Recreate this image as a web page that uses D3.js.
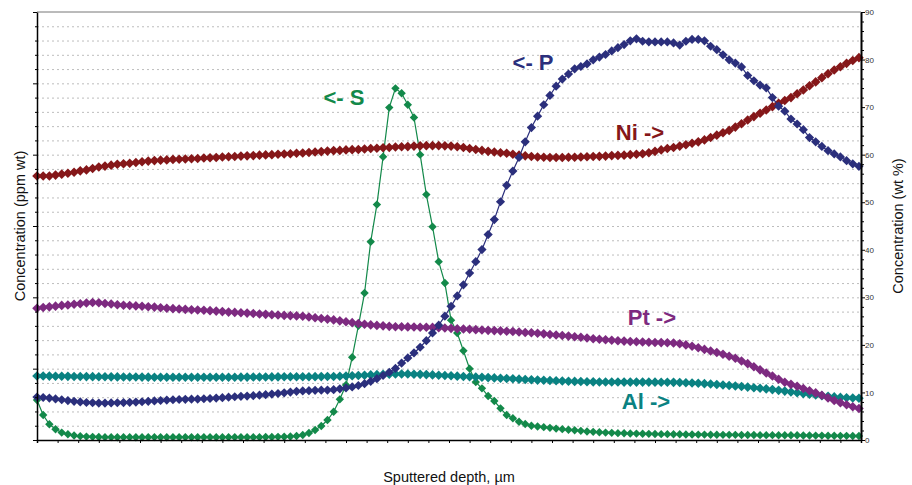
<!DOCTYPE html>
<html>
<head>
<meta charset="utf-8">
<script src="https://cdn.jsdelivr.net/npm/d3@7"></script>
<style>
  body { margin: 0; background: #fff; }
  svg { display: block; font-family: "Liberation Sans", Arial, sans-serif; }
</style>
</head>
<body>
<svg id="chart"></svg>
<script>
// sampling step along the sputtered depth (µm)
const depthStep = 0.03;

// wt % (right axis)
const ni = [55.5,55.5,55.5,55.7,55.9,56.1,56.3,56.6,56.8,57.1,
  57.4,57.6,57.8,58.0,58.1,58.2,58.35,58.5,58.65,58.75,
  58.85,58.9,59.0,59.05,59.1,59.15,59.2,59.3,59.35,59.4,
  59.5,59.55,59.6,59.7,59.75,59.8,59.9,59.95,60.0,60.1,
  60.15,60.2,60.3,60.35,60.45,60.55,60.65,60.75,60.85,60.9,
  61.0,61.05,61.1,61.2,61.3,61.35,61.45,61.5,61.6,61.65,
  61.7,61.8,61.85,61.9,61.9,61.9,61.85,61.8,61.65,61.5,
  61.3,61.1,60.9,60.7,60.55,60.4,60.3,60.1,59.9,59.75,
  59.6,59.5,59.45,59.4,59.4,59.4,59.45,59.45,59.5,59.55,
  59.6,59.65,59.7,59.8,59.85,59.9,60.0,60.1,60.2,60.4,
  60.7,61.0,61.3,61.5,61.8,62.1,62.4,62.7,63.1,63.6,
  64.1,64.6,65.1,65.8,66.5,67.3,68.0,68.7,69.4,70.1,
  70.8,71.4,72.0,72.8,73.6,74.5,75.3,76.2,77.0,77.8,
  78.5,79.2,79.8,80.4];

const pt = [27.7,27.85,28.0,28.15,28.3,28.4,28.55,28.65,28.8,28.9,
  28.85,28.7,28.6,28.45,28.35,28.28,28.2,28.12,28.03,27.95,
  27.82,27.7,27.62,27.55,27.47,27.4,27.35,27.27,27.2,27.1,
  27.0,26.9,26.83,26.75,26.68,26.6,26.5,26.42,26.35,26.28,
  26.2,26.15,26.1,26.02,25.88,25.72,25.55,25.42,25.25,25.05,
  24.85,24.68,24.5,24.35,24.2,24.1,24.0,23.9,23.83,23.8,
  23.78,23.75,23.72,23.7,23.68,23.62,23.55,23.48,23.4,23.34,
  23.28,23.2,23.13,23.06,23.0,22.95,22.88,22.8,22.7,22.62,
  22.55,22.45,22.32,22.2,22.08,21.98,21.85,21.72,21.6,21.45,
  21.3,21.18,21.08,20.98,20.88,20.8,20.72,20.65,20.6,20.55,
  20.5,20.48,20.45,20.4,20.25,20.0,19.7,19.4,19.05,18.72,
  18.4,18.02,17.62,17.18,16.62,16.05,15.4,14.75,14.1,13.45,
  12.78,12.15,11.7,11.3,10.82,10.35,9.9,9.42,8.85,8.32,
  7.85,7.4,7.0,6.62];

const al = [13.46,13.45,13.44,13.42,13.4,13.38,13.36,13.34,13.33,13.32,
  13.31,13.3,13.28,13.27,13.26,13.25,13.24,13.23,13.22,13.21,
  13.2,13.2,13.19,13.18,13.18,13.18,13.18,13.18,13.19,13.19,
  13.2,13.2,13.21,13.22,13.23,13.24,13.25,13.26,13.27,13.28,
  13.29,13.3,13.3,13.3,13.31,13.32,13.33,13.34,13.36,13.4,
  13.45,13.51,13.57,13.63,13.69,13.74,13.79,13.83,13.87,13.88,
  13.87,13.84,13.8,13.75,13.69,13.63,13.57,13.5,13.43,13.36,
  13.3,13.24,13.18,13.12,13.06,13.0,12.94,12.88,12.8,12.73,
  12.66,12.6,12.55,12.5,12.45,12.4,12.36,12.32,12.29,12.26,
  12.23,12.2,12.2,12.19,12.19,12.18,12.18,12.18,12.17,12.17,
  12.16,12.15,12.14,12.12,12.08,12.03,11.98,11.92,11.85,11.76,
  11.66,11.56,11.45,11.34,11.24,11.12,11.0,10.88,10.75,10.6,
  10.44,10.28,10.1,9.92,9.76,9.62,9.48,9.33,9.18,9.06,
  8.96,8.88,8.82,8.77];

// ppm wt (left axis, unlabelled units)
const p = [3.01,2.98,2.94,2.88,2.82,2.76,2.71,2.67,2.63,2.61,
  2.59,2.59,2.6,2.61,2.62,2.64,2.66,2.68,2.71,2.74,
  2.77,2.8,2.82,2.84,2.85,2.86,2.87,2.89,2.91,2.94,
  2.97,3.0,3.03,3.06,3.08,3.11,3.14,3.18,3.22,3.26,
  3.31,3.36,3.41,3.44,3.46,3.48,3.49,3.5,3.53,3.59,
  3.65,3.72,3.82,3.95,4.11,4.3,4.52,4.75,5.02,5.39,
  5.75,6.1,6.5,6.96,7.5,8.05,8.68,9.37,10.1,10.88,
  11.7,12.5,13.35,14.4,15.45,16.7,17.85,18.85,19.8,20.9,
  21.9,22.7,23.5,24.15,24.8,25.3,25.65,26.02,26.18,26.36,
  26.65,26.84,27.02,27.27,27.5,27.72,27.98,28.12,27.95,27.91,
  27.9,27.9,27.9,27.83,27.68,27.95,28.08,28.08,27.98,27.6,
  27.36,27.0,26.65,26.42,26.15,25.55,25.18,24.88,24.68,24.0,
  23.4,23.05,22.5,22.15,21.75,21.2,20.9,20.58,20.28,20.05,
  19.84,19.58,19.36,19.18];

const s = [2.8,1.75,1.1,0.75,0.52,0.4,0.32,0.27,0.24,0.22,
  0.21,0.2,0.2,0.19,0.2,0.2,0.19,0.19,0.2,0.2,
  0.19,0.19,0.2,0.2,0.2,0.19,0.19,0.2,0.2,0.19,
  0.19,0.2,0.2,0.2,0.19,0.2,0.2,0.21,0.21,0.22,
  0.23,0.25,0.28,0.35,0.49,0.7,0.98,1.4,1.98,2.85,
  3.85,5.8,8.0,10.3,13.9,16.5,19.85,23.3,24.65,24.3,
  23.5,22.6,20.0,17.2,14.95,12.5,11.0,8.4,7.5,6.26,
  5.0,4.06,3.62,3.08,2.73,2.22,1.75,1.52,1.28,1.12,
  1.0,0.95,0.9,0.85,0.8,0.76,0.72,0.68,0.64,0.6,
  0.57,0.54,0.52,0.5,0.48,0.47,0.46,0.45,0.44,0.43,
  0.42,0.41,0.41,0.4,0.4,0.39,0.39,0.38,0.38,0.37,
  0.37,0.36,0.36,0.36,0.35,0.35,0.35,0.34,0.34,0.34,
  0.33,0.33,0.33,0.33,0.32,0.32,0.31,0.31,0.3,0.3,
  0.29,0.29,0.28,0.28];

// label positions: [text, depth µm, wt %]
const labels = [
  ["<- S", 1.49, 70.4, "#13894a"],
  ["<- P", 2.408, 77.8, "#2b2f7c"],
  ["Ni ->", 2.927, 63.1, "#851719"],
  ["Pt ->", 2.985, 24.2, "#7d2a80"],
  ["Al ->", 2.956, 6.5, "#0a8282"],
];

const width = 912, height = 485;
const marginLeft = 37, marginRight = 51, marginTop = 12, marginBottom = 45;

const depth = d3.range(ni.length).map(i => i * depthStep);

const x = d3.scaleLinear([0, 4], [marginLeft, width - marginRight]);
const yRight = d3.scaleLinear([0, 90], [height - marginBottom, marginTop]);
const yLeft = d3.scaleLinear([0, 30], [height - marginBottom, marginTop]);

const series = [
  {name: "S", values: s, y: yLeft, color: "#13894a", r: 4.2},
  {name: "Ni", values: ni, y: yRight, color: "#851719", r: 4.8},
  {name: "Al", values: al, y: yRight, color: "#0a8282", r: 4.8},
  {name: "Pt", values: pt, y: yRight, color: "#7d2a80", r: 4.8},
  {name: "P", values: p, y: yLeft, color: "#2b2f7c", r: 4.6},
];

const svg = d3.select("#chart")
    .attr("width", width)
    .attr("height", height)
    .attr("viewBox", [0, 0, width, height]);

// dotted gridlines on the left axis divisions
svg.append("g")
  .selectAll("line")
  .data(d3.range(1, 30))
  .join("line")
    .attr("x1", marginLeft)
    .attr("x2", width - marginRight)
    .attr("y1", d => yLeft(d) + 0.5)
    .attr("y2", d => yLeft(d) + 0.5)
    .attr("stroke", "#bdbdbd")
    .attr("stroke-width", 1)
    .attr("stroke-dasharray", "2,3");

// top border
svg.append("line")
    .attr("x1", marginLeft)
    .attr("x2", width - marginRight)
    .attr("y1", marginTop)
    .attr("y2", marginTop)
    .attr("stroke", "#777")
    .attr("stroke-width", 1);

// series
const diamond = r => `M0,${-r}L${r},0L0,${r}L${-r},0Z`;

for (const d of series) {
  const line = d3.line()
      .x((v, i) => x(depth[i]))
      .y(v => d.y(v));

  svg.append("path")
      .attr("fill", "none")
      .attr("stroke", d.color)
      .attr("stroke-width", 1.2)
      .attr("d", line(d.values));

  svg.append("g")
      .attr("fill", d.color)
    .selectAll("path")
    .data(d.values)
    .join("path")
      .attr("transform", (v, i) => `translate(${x(depth[i])},${d.y(v)})`)
      .attr("d", diamond(d.r));
}

// axes
svg.append("g")
    .attr("transform", `translate(0,${height - marginBottom})`)
    .call(d3.axisBottom(x).tickValues(d3.range(0, 40.5, 1).map(t => t / 10)).tickSize(3).tickFormat(""))
    .call(g => g.select(".domain").attr("stroke", "#000").attr("stroke-width", 1.5))
    .call(g => g.selectAll(".tick line").attr("stroke", "#000"));

svg.append("g")
    .attr("transform", `translate(${marginLeft},0)`)
    .call(d3.axisLeft(yLeft).tickValues(d3.range(0, 31)).tickSize(2).tickFormat("").tickSizeOuter(0))
    .call(g => g.select(".domain").attr("stroke", "#000").attr("stroke-width", 1.5))
    .call(g => g.selectAll(".tick line")
        .attr("stroke", "#000")
        .attr("x2", d => d % 5 === 0 ? -4 : -2));

svg.append("g")
    .attr("transform", `translate(${width - marginRight},0)`)
    .call(d3.axisRight(yRight).tickValues(d3.range(0, 91, 2)).tickSize(3).tickSizeOuter(0)
        .tickFormat(d => d % 10 === 0 ? d : ""))
    .call(g => g.select(".domain").attr("stroke", "#000").attr("stroke-width", 2))
    .call(g => g.selectAll(".tick line")
        .attr("stroke", "#000")
        .attr("x2", d => d % 10 === 0 ? 4 : 3))
    .call(g => g.selectAll(".tick text")
        .attr("x", 4)
        .attr("fill", "#333")
        .attr("font-size", 8)
        .attr("font-family", "Liberation Sans, Arial, sans-serif"));

// axis titles
svg.append("text")
    .attr("transform", `translate(25,${(marginTop + height - marginBottom) / 2}) rotate(-90)`)
    .attr("text-anchor", "middle")
    .attr("font-size", 14.5)
    .attr("fill", "#111")
    .text("Concentration (ppm wt)");

svg.append("text")
    .attr("transform", `translate(903,${(marginTop + height - marginBottom) / 2}) rotate(-90)`)
    .attr("text-anchor", "middle")
    .attr("font-size", 14.5)
    .attr("fill", "#111")
    .text("Concentration (wt %)");

svg.append("text")
    .attr("x", (marginLeft + width - marginRight) / 2)
    .attr("y", 482)
    .attr("text-anchor", "middle")
    .attr("font-size", 14.5)
    .attr("fill", "#111")
    .text("Sputtered depth, µm");

// series labels
svg.append("g")
    .attr("font-size", 22)
    .attr("font-weight", "bold")
    .attr("text-anchor", "middle")
  .selectAll("text")
  .data(labels)
  .join("text")
    .attr("x", d => x(d[1]))
    .attr("y", d => yRight(d[2]))
    .attr("fill", d => d[3])
    .text(d => d[0]);
</script>
</body>
</html>
